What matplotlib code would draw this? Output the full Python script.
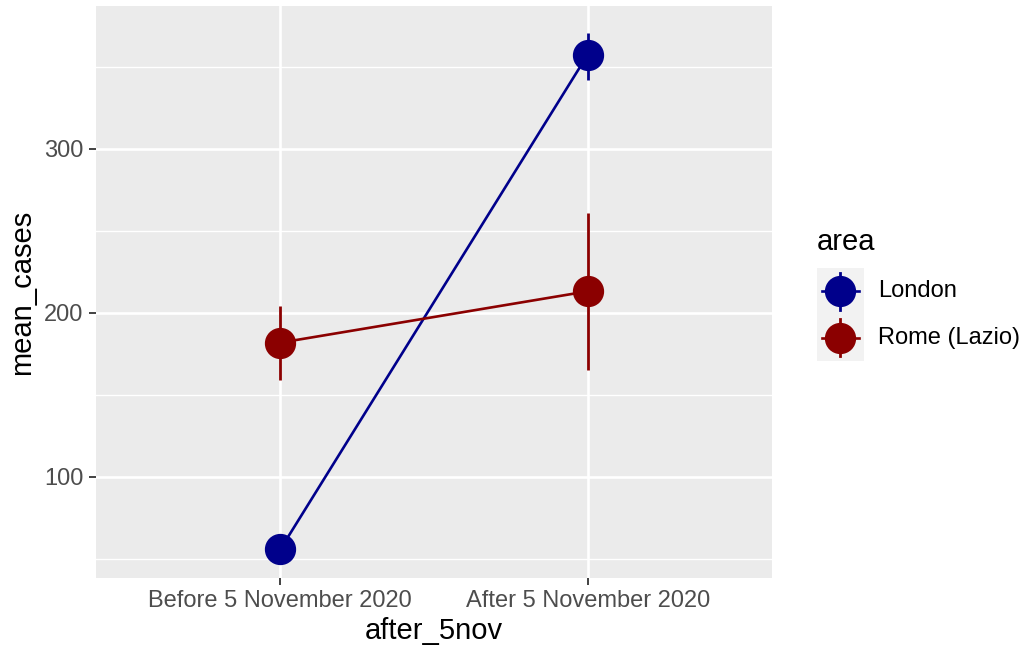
import numpy as np
import matplotlib
matplotlib.use("Agg")
from matplotlib import pyplot as plt

plt.rcParams['font.family'] = ['Liberation Sans', 'DejaVu Sans']

periods = ["Before 5 November 2020", "After 5 November 2020"]
areas = ["London", "Rome (Lazio)"]
colors = ["#00008B", "#8B0000"]
mean_cases = {
    "London": [55.9, 357.5],
    "Rome (Lazio)": [181.9, 213.2],
}
lower = {
    "London": [52.0, 342.0],
    "Rome (Lazio)": [159.1, 165.5],
}
upper = {
    "London": [60.0, 371.0],
    "Rome (Lazio)": [204.3, 261.0],
}

fig = plt.figure(figsize=(10.23, 6.49), dpi=100)
ax = fig.add_axes([0.0938, 0.1094, 0.6609, 0.8814])
ax.set_facecolor("#EBEBEB")

x = np.arange(1, len(periods) + 1)
for area, col in zip(areas, colors):
    ax.plot(x, mean_cases[area], color=col, lw=1.9, zorder=3)
    ax.vlines(x, lower[area], upper[area], color=col, lw=2.0, zorder=3)
    ax.plot(x, mean_cases[area], 'o', color=col, ms=21.5, zorder=4)

ax.set_xlim(0.4, 2.6)
ax.set_ylim(38.4, 387.2)
ax.set_xticks(x)
ax.set_xticklabels(periods)
ax.set_yticks([100, 200, 300])
ax.set_yticks([50, 150, 250, 350], minor=True)
ax.grid(True, which='major', color='white', lw=1.9)
ax.grid(True, which='minor', color='white', lw=0.95)
ax.set_axisbelow(True)
for s in ax.spines.values():
    s.set_visible(False)
ax.tick_params(axis='both', which='major', length=5, width=1.3, color='#333333',
               labelsize=17, labelcolor='#4D4D4D', pad=4)
ax.tick_params(axis='both', which='minor', length=0)
ax.set_xlabel("after_5nov", fontsize=21, color='black', labelpad=3)
ax.set_ylabel("mean_cases", fontsize=21, color='black', labelpad=6)

# legend
lax = fig.add_axes([0.7986, 0.4438, 0.0459, 0.1433])
lax.set_facecolor("#F2F2F2")
lax.set_xlim(0, 1)
lax.set_ylim(0, 2)
for i, (area, col) in enumerate(zip(areas, colors)):
    yy = 1.5 - i
    lax.plot([0.1, 0.9], [yy, yy], color=col, lw=1.9)
    lax.plot([0.5, 0.5], [yy - 0.4, yy + 0.4], color=col, lw=2.0)
    lax.plot([0.5], [yy], 'o', color=col, ms=21.5)
    lax.text(1.3, yy, area, fontsize=17, va='center', ha='left', color='black')
lax.text(0.0, 2.25, "area", fontsize=21, va='bottom', ha='left', color='black')
lax.set_xticks([])
lax.set_yticks([])
for s in lax.spines.values():
    s.set_visible(False)

fig.savefig("out.png", dpi=100)
